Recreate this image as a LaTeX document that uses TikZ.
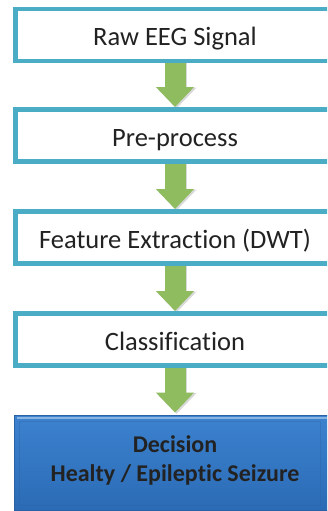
\documentclass[tikz,border=0pt]{standalone}
\usepackage{fontspec}
\setmainfont{Carlito}[Ligatures=NoCommon]
\usetikzlibrary{calc,arrows.meta,shadows}
\definecolor{boxline}{HTML}{4BACC6}
\definecolor{arrowgreen}{HTML}{8FBC5F}
\definecolor{txt}{HTML}{222222}
\definecolor{bluetop}{HTML}{3C82CF}
\definecolor{bluebot}{HTML}{2B6BB5}
\definecolor{blueedge}{HTML}{2A62A5}
\pgfdeclarelayer{bg}
\pgfsetlayers{bg,main}
\begin{document}
\begin{tikzpicture}[x=1pt,y=1pt,
  stepbox/.style={draw=boxline, line width=4.5pt, fill=white,
    minimum width=319.5pt, minimum height=52pt, inner sep=0pt, outer sep=0pt,
    font=\fontsize{26.5}{30}\selectfont, text=txt, text height=22pt, text depth=0pt},
  decbox/.style={draw=blueedge, line width=1pt, top color=bluetop, bottom color=bluebot,
    minimum width=322pt, minimum height=95pt, inner sep=0pt, outer sep=0pt,
    drop shadow={shadow xshift=1pt, shadow yshift=-2pt, opacity=0.35}},
  dectext/.style={font=\fontsize{24}{29}\selectfont\bfseries, text=txt, align=center, inner sep=0pt},
  flow/.style={line width=21pt, arrowgreen, -{Triangle[width=37pt,length=20pt]}},
  flowshadow/.style={line width=21pt, black, opacity=0.15, -{Triangle[width=39pt,length=21pt]}}
]
\useasboundingbox (0,0) rectangle (327,-511);
\clip (0,0) rectangle (327,-511);

\node[stepbox] (b1) at (175,-35) {Raw EEG Signal};
\node[stepbox] (b2) at (175,-135.5) {Pre-process};
\node[stepbox] (b3) at (175,-237.5) {Feature Extraction (DWT)};
\node[stepbox] (b4) at (175,-339.5) {Classification};
\node[decbox] (b5) at (175,-462.5) {};

% bevel
\draw[white, opacity=0.4, line width=1.5pt]
  ($(b5.north west)+(3,-3)$) -- ($(b5.north east)+(-3,-3)$);
\draw[blueedge, opacity=0.35, line width=0.8pt]
  ($(b5.north west)+(5,-6)$) rectangle ($(b5.south east)+(-16,5)$);

\node[dectext] (t5) at ($(b5.center)+(0,2)$) {Decision\\Healty / Epileptic Seizure};

\begin{pgfonlayer}{bg}
  \fill[white] (0,0) rectangle (327,-511);
  \foreach \a/\b in {b1/b2,b2/b3,b3/b4,b4/b5}{
    \draw[flowshadow] ($(\a.south)+(1.5,-2)$) -- ($(\b.north)+(1.5,1)$);
    \draw[flow] (\a.south) -- ($(\b.north)+(0,2.5)$);
  }
\end{pgfonlayer}
\end{tikzpicture}
\end{document}
